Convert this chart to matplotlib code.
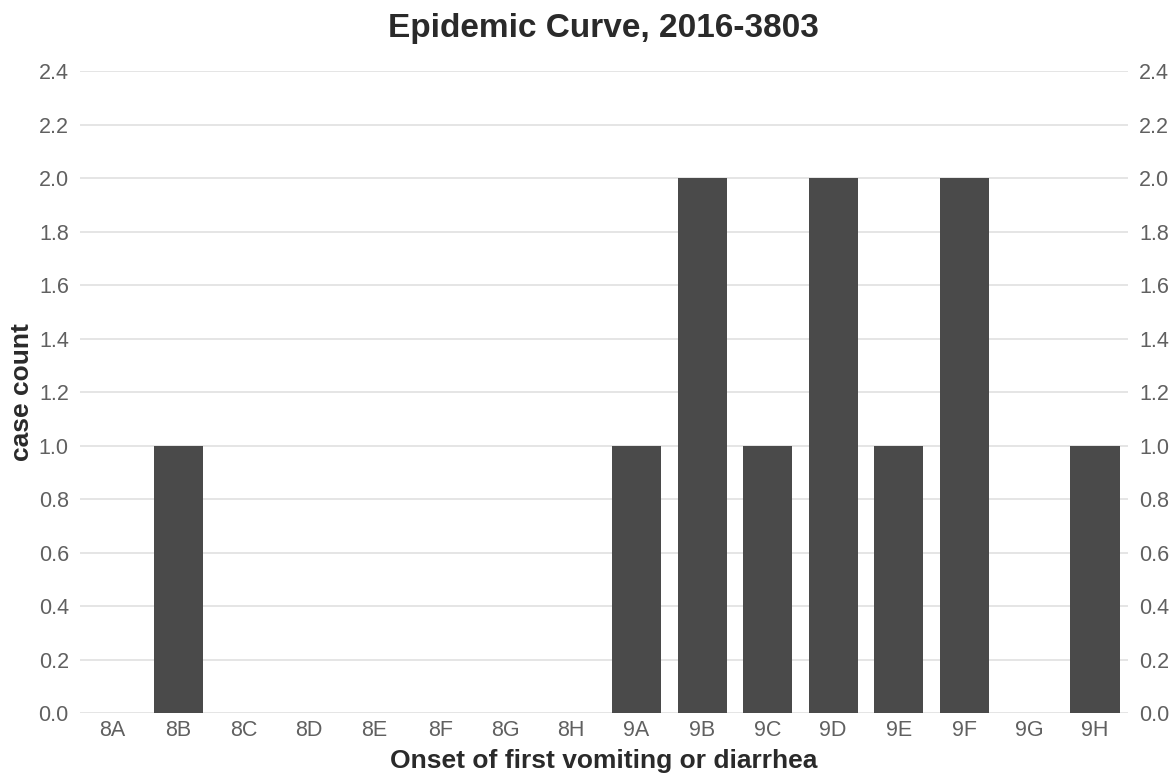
import matplotlib.pyplot as plt

# onset period and number of cases
periods = ['8A', '8B', '8C', '8D', '8E', '8F', '8G', '8H',
           '9A', '9B', '9C', '9D', '9E', '9F', '9G', '9H']
cases = [0, 1, 0, 0, 0, 0, 0, 0, 1, 2, 1, 2, 1, 2, 0, 1]
y_ticks = [0.0, 0.2, 0.4, 0.6, 0.8, 1.0, 1.2, 1.4, 1.6, 1.8, 2.0, 2.2, 2.4]

plt.rcParams['font.family'] = ['Liberation Sans', 'DejaVu Sans']

fig = plt.figure(figsize=(11.76, 7.75), dpi=100)
ax = fig.add_axes([0.068, 0.08, 0.891, 0.828])

x = range(len(periods))
ax.bar(x, cases, width=0.75, color='#4a4a4a', zorder=3)

ax.set_xlim(-0.5, len(periods) - 0.5)
ax.set_ylim(0, 2.4)
ax.set_xticks(list(x))
ax.set_xticklabels(periods)
ax.set_yticks(y_ticks)
ax.set_yticklabels([f'{v:.1f}' for v in y_ticks])

ax.grid(axis='y', color='#e3e3e3', linewidth=1.3, zorder=0)
for s in ax.spines.values():
    s.set_visible(False)
ax.tick_params(axis='both', length=0, labelsize=15.5, labelcolor='#606060')
ax.tick_params(axis='y', pad=8, labelright=True)
ax.tick_params(axis='x', pad=5)

ax.set_title('Epidemic Curve, 2016-3803', fontsize=24, fontweight='bold',
             color='#2a2a2a', pad=25)
ax.set_xlabel('Onset of first vomiting or diarrhea', fontsize=19,
              fontweight='bold', color='#2a2a2a', labelpad=6)
ax.set_ylabel('case count', fontsize=19, fontweight='bold', color='#2a2a2a',
              labelpad=3)

plt.savefig('out.png', dpi=100)
